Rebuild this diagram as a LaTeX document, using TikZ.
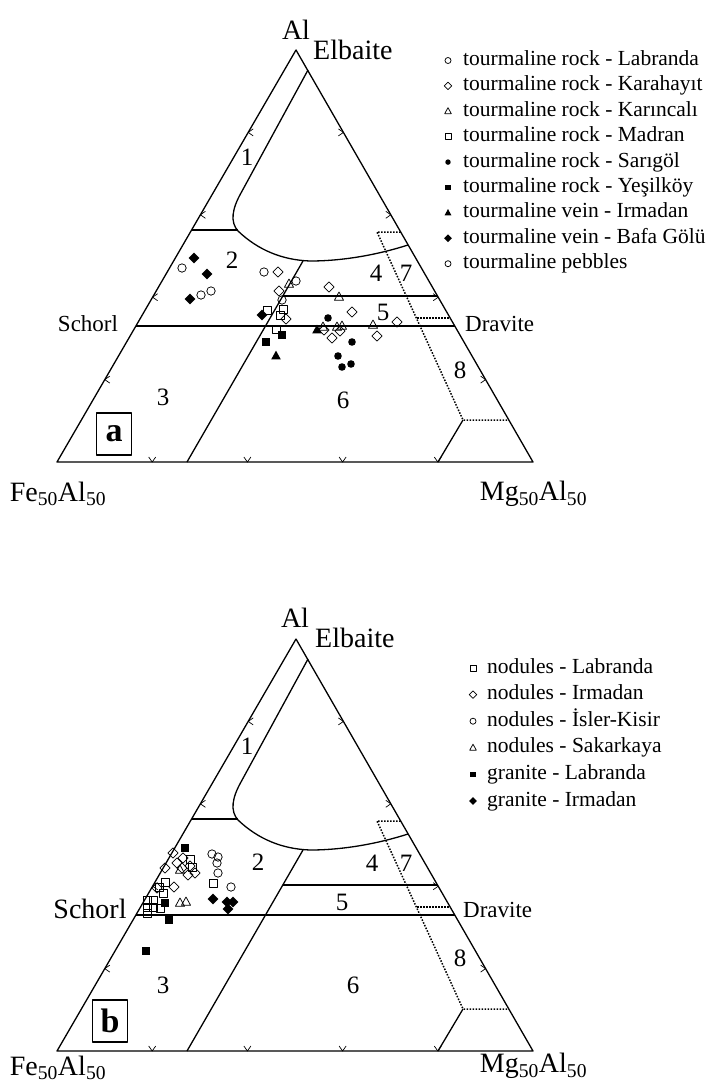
\documentclass[tikz,border=0pt]{standalone}
\usepackage{fontspec}
\setmainfont{Liberation Serif}
\usetikzlibrary{calc}
\tikzset{frame/.style={line width=1.3pt},
  dots/.style={line width=1.5pt,dash pattern=on 1.5pt off 1.5pt},
  tickmark/.style={line width=0.7pt},
  markline/.style={line width=0.75pt},
  lab/.style={inner sep=0pt,font=\fontsize{28}{30}\selectfont},
  mid/.style={inner sep=0pt,font=\fontsize{23}{25}\selectfont},
  num/.style={inner sep=0pt,font=\fontsize{25}{27}\selectfont},
  leg/.style={inner sep=0pt,anchor=base west,font=\fontsize{21.5}{24}\selectfont},
  boxlab/.style={draw,line width=1.3pt,inner sep=0pt,minimum width=35pt,minimum height=42pt,font=\fontsize{34}{36}\bfseries},
  ocirc/.pic={\draw[markline] (0,0) circle (4.2);},
  fcirc/.pic={\fill (0,0) circle (3.8);},
  odia/.pic={\draw[markline] (0,-5.2) -- (5.2,0) -- (0,5.2) -- (-5.2,0) -- cycle;},
  fdia/.pic={\fill (0,-5.4) -- (5.4,0) -- (0,5.4) -- (-5.4,0) -- cycle;},
  osq/.pic={\draw[markline] (-4,-4) rectangle (4,4);},
  fsq/.pic={\fill (-4,-4) rectangle (4,4);},
  otri/.pic={\draw[markline] (0,-5) -- (4.6,3.3) -- (-4.6,3.3) -- cycle;},
  ftri/.pic={\fill (0,-5.4) -- (4.8,3.4) -- (-4.8,3.4) -- cycle;}}

% triangle with the field boundaries, same for both panels
\newcommand{\fieldframe}{%
  \draw[frame] (296,50) -- (57,462) -- (533,462) -- cycle;
  \draw[frame] (308,70) -- (241,193) .. controls (232,209) and (230,222) .. (238,231)
    .. controls (258,250) and (282,260) .. (310,261) .. controls (345,261) and (380,254) .. (408,245);
  \draw[frame] (192,230) -- (238,230);
  \draw[frame] (303,261) -- (187,462);
  \draw[frame] (283,296) -- (437.5,296);
  \draw[frame] (136,326) -- (454.7,326);
  \draw[frame] (463,420) -- (438,462);
  \draw[dots] (400.7,232) -- (377,232) -- (463,420) -- (508.8,420);
  \draw[dots] (417,318) -- (450,318);
  \foreach \f in {0.2,0.4,0.6,0.8}{
    \coordinate (tl) at ($(57,462)!\f!(296,50)$);
    \coordinate (tr) at ($(296,50)!\f!(533,462)$);
    \coordinate (tb) at ($(57,462)!\f!(533,462)$);
    \draw[tickmark] (tl) +(5,-3.5) -- (tl) -- +(5,3.5);
    \draw[tickmark] (tr) +(-5,-3.5) -- (tr) -- +(-5,3.5);
    \draw[tickmark] (tb) +(-3.5,-5) -- (tb) -- +(3.5,-5);
  }}

\begin{document}
\begin{tikzpicture}[x=1pt,y=-1pt,line join=round]
  \useasboundingbox (0,0) rectangle (710,1085);

  % panel a
  \fieldframe
  \node[lab] (al-a) at (296,30) {Al};
  \node[lab,anchor=west] (elb-a) at (313,50) {Elbaite};
  \node[mid] (sch-a) at (88,324) {Schorl};
  \node[mid,anchor=west] (drav-a) at (465,324) {Dravite};
  \node[lab] (fe-a) at (58,494) {Fe\textsubscript{50}Al\textsubscript{50}};
  \node[lab] (mg-a) at (533.5,494) {Mg\textsubscript{50}Al\textsubscript{50}};
  \foreach \n/\x/\y in {1/247/157,2/232/260,3/163/397,4/376/273,5/383/312,6/343/400,7/406/273,8/460/370}
    \node[num] (fa\n) at (\x,\y) {\n};
  \node[boxlab] (box-a) at (114,434) {a};

  \foreach \p in {(182,268),(201,295),(211,291),(264,272),(296,281),(282,300)} \pic at \p {ocirc};
  \foreach \p in {(194,258),(207,274),(190,299),(262,315)} \pic at \p {fdia};
  \foreach \p in {(278,272),(279,291),(286,319),(329,287),(352,312),(324,330),(332,338),(340,331),(397,322),(377,336)} \pic at \p {odia};
  \foreach \p in {(289,284),(339,297),(323,327),(337,327),(342,326),(373,325)} \pic at \p {otri};
  \foreach \p in {(267,310),(283,309),(280,315),(276,329)} \pic at \p {osq};
  \foreach \p in {(282,335),(266,342)} \pic at \p {fsq};
  \foreach \p in {(276,356),(317,330)} \pic at \p {ftri};
  \foreach \p in {(328,318),(352,342),(338,356),(342,367),(351,364)} \pic at \p {fcirc};

  \foreach \s/\t [count=\i] in {ocirc/tourmaline rock - Labranda,odia/tourmaline rock - Karahayıt,
      otri/tourmaline rock - Karıncalı,osq/tourmaline rock - Madran,fcirc/tourmaline rock - Sarıgöl,
      fsq/tourmaline rock - Yeşilköy,ftri/tourmaline vein - Irmadan,fdia/tourmaline vein - Bafa Gölü,
      ocirc/tourmaline pebbles}{
    \pic[scale=0.72] at (448,{60.5+25.4*(\i-1)}) {\s};
    \node[leg] (leg-a\i) at (463,{65.5+25.4*(\i-1)}) {\t};
  }

  % panel b
  \begin{scope}[yshift=-589pt]
    \fieldframe
  \end{scope}
  \node[lab] (al-b) at (295,618) {Al};
  \node[lab,anchor=west] (elb-b) at (315,638) {Elbaite};
  \node[lab] (sch-b) at (90,909) {Schorl};
  \node[mid,anchor=west] (drav-b) at (463,910) {Dravite};
  \node[lab] (fe-b) at (58,1068) {Fe\textsubscript{50}Al\textsubscript{50}};
  \node[lab] (mg-b) at (533.5,1066) {Mg\textsubscript{50}Al\textsubscript{50}};
  \foreach \n/\x/\y in {1/247/746,2/258/862,3/163/985,4/372/863,5/342/902,6/353/985,7/406/863,8/460/958}
    \node[num] (fb\n) at (\x,\y) {\n};
  \node[boxlab] (box-b) at (110,1021) {b};

  \foreach \p in {(173,853),(165,868),(177,863),(183,858),(190,866),(195,873),(188,875),(182,868),(174,887),(157,888)} \pic at \p {odia};
  \foreach \p in {(190,859),(192,867),(213,883),(165,882),(159,887),(163,893),(147,900),(153,900),(147,907),(153,907),(147,913),(160,908)} \pic at \p {osq};
  \foreach \p in {(212,854),(218,857),(217,863),(218,873),(231,887)} \pic at \p {ocirc};
  \foreach \p in {(180,903),(186,902),(180,870)} \pic at \p {otri};
  \foreach \p in {(185,848),(165,903),(169,920),(146,951)} \pic at \p {fsq};
  \foreach \p in {(213,899),(227,902),(233,902),(228,909)} \pic at \p {fdia};

  \foreach \s/\t [count=\i] in {osq/nodules - Labranda,odia/nodules - Irmadan,ocirc/nodules - İsler-Kisir,
      otri/nodules - Sakarkaya,fsq/granite - Labranda,fdia/granite - Irmadan}{
    \pic[scale=0.72] at (473,{668+26.6*(\i-1)}) {\s};
    \node[leg] (leg-b\i) at (487,{673+26.6*(\i-1)}) {\t};
  }
\end{tikzpicture}
\end{document}
